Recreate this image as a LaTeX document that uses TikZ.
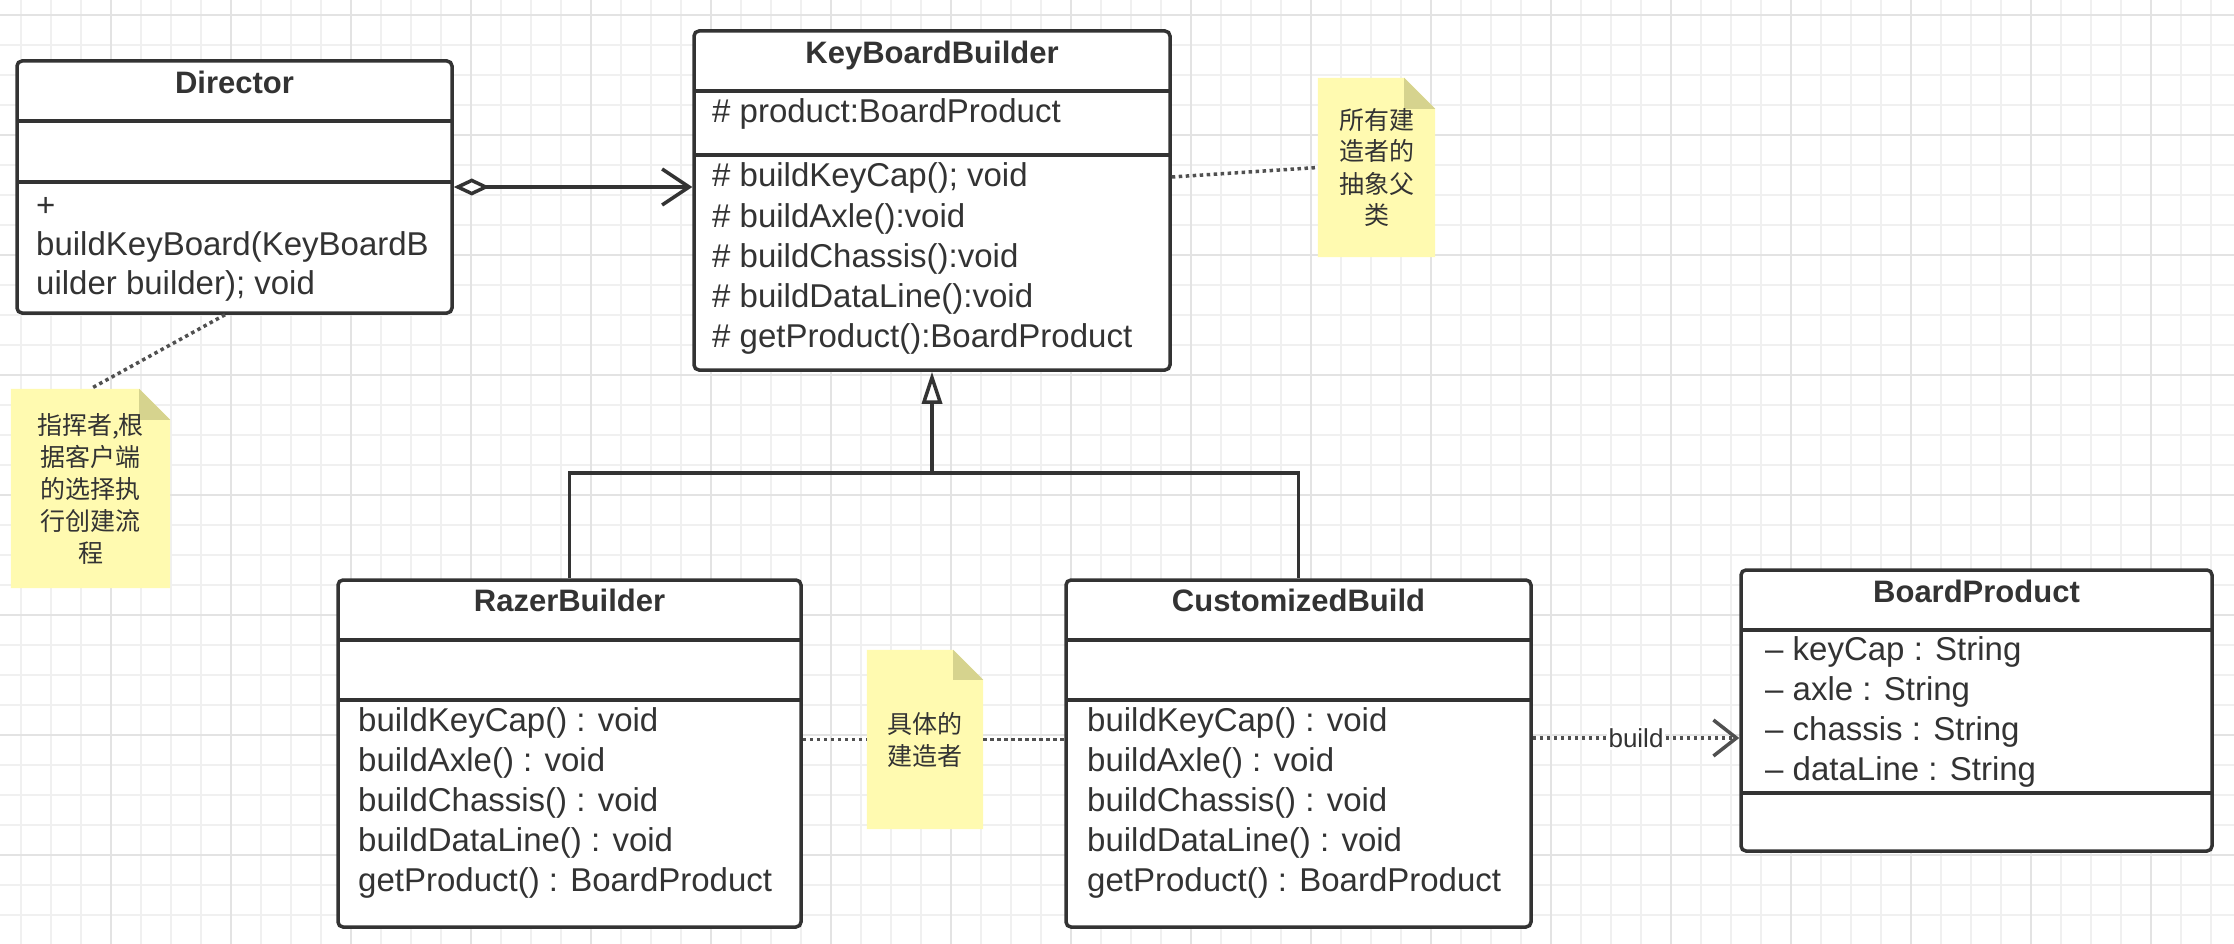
\documentclass[tikz,border=0pt]{standalone}
\usepackage{fontspec}
\setmainfont{Liberation Sans}
\newfontfamily\cjk{Noto Sans CJK SC}
\usetikzlibrary{arrows.meta,calc}
\definecolor{linec}{HTML}{333333}
\definecolor{dotc}{HTML}{505050}
\definecolor{textc}{HTML}{333333}
\definecolor{notey}{HTML}{FFFAB0}
\definecolor{foldc}{HTML}{D6D38E}
\definecolor{gridmin}{HTML}{F0F0F0}
\definecolor{gridmaj}{HTML}{E3E3E3}
\newcommand{\paintnote}[2]{%
  \fill[notey] (#1.north west) -- ([xshift=-#2]#1.north east) -- ([yshift=-#2]#1.north east) -- (#1.south east) -- (#1.south west) -- cycle;
  \fill[foldc] ([xshift=-#2]#1.north east) -- ([xshift=-#2,yshift=-#2]#1.north east) -- ([yshift=-#2]#1.north east) -- cycle;}
\tikzset{
  cls/.style={draw=linec, line width=3.5pt, rounded corners=5pt, fill=white, inner sep=0pt},
  sepl/.style={draw=linec, line width=3.5pt},
  hdr/.style={font=\fontsize{31}{37}\selectfont\bfseries, text=textc, inner sep=0pt, anchor=base},
  mem/.style={font=\fontsize{33}{40}\selectfont, text=textc, inner sep=0pt, anchor=base west},
  notebox/.style={inner sep=0pt},
  notetxt/.style={font=\cjk\fontsize{25}{32}\selectfont, text=textc, align=center, inner sep=0pt},
  dep/.style={draw=dotc, line width=3.5pt, dash pattern=on 3.5pt off 3.5pt},
  solidc/.style={draw=linec, line width=3.5pt},
  agg/.style={solidc, {Diamond[fill=white,length=36pt,width=17pt]}-{Straight Barb[length=27pt,width=36pt]}},
  lbl/.style={fill=white, font=\fontsize{26}{30}\selectfont, text=textc, inner sep=2pt}
}
\begin{document}
\begin{tikzpicture}[x=1pt,y=-1pt]
\useasboundingbox (0,0) rectangle (2234,944);
\fill[white] (0,0) rectangle (2234,944);
% grid
\foreach \gx in {0,...,73} \draw[gridmin, line width=2pt] ({20.7+30*\gx},0) -- ({20.7+30*\gx},944);
\foreach \gy in {0,...,30} \draw[gridmin, line width=2pt] (0,{15+30*\gy}) -- (2234,{15+30*\gy});
\foreach \gx in {0,...,17} \draw[gridmaj, line width=2pt] ({110.7+120*\gx},0) -- ({110.7+120*\gx},944);
\foreach \gy in {0,...,7} \draw[gridmaj, line width=2pt] (0,{15+120*\gy}) -- (2234,{15+120*\gy});

% Director
\node[cls, minimum width=435pt, minimum height=252pt] (dir) at (234.5,187) {};
\draw[sepl] (17,121) -- (452,121);
\draw[sepl] (17,182) -- (452,182);
\node[hdr] (dirh) at (234.5,94) {Director};
\node[mem] (dirm1) at (36,216) {+};
\node[mem] (dirm2) at (36,255) {buildKeyBoard(KeyBoardB};
\node[mem] (dirm3) at (36,294) {uilder builder); void};

% KeyBoardBuilder
\node[cls, minimum width=476pt, minimum height=339pt] (kbb) at (932,200.5) {};
\draw[sepl] (694,91) -- (1170,91);
\draw[sepl] (694,155) -- (1170,155);
\node[hdr] (kbbh) at (932,64) {KeyBoardBuilder};
\node[mem] (kbba) at (712,123) {\# product:BoardProduct};
\node[mem] (kbbm1) at (712,187) {\# buildKeyCap(); void};
\node[mem] (kbbm2) at (712,227) {\# buildAxle():void};
\node[mem] (kbbm3) at (712,267) {\# buildChassis():void};
\node[mem] (kbbm4) at (712,307) {\# buildDataLine():void};
\node[mem] (kbbm5) at (712,347) {\# getProduct():BoardProduct};

% RazerBuilder
\node[cls, minimum width=463pt, minimum height=347pt] (razer) at (569.5,753.5) {};
\draw[sepl] (338,640) -- (801,640);
\draw[sepl] (338,700) -- (801,700);
\node[hdr] (razerh) at (569.5,611) {RazerBuilder};
\node[mem] (razm1) at (358,731) {buildKeyCap() : void};
\node[mem] (razm2) at (358,771) {buildAxle() : void};
\node[mem] (razm3) at (358,811) {buildChassis() : void};
\node[mem] (razm4) at (358,851) {buildDataLine() : void};
\node[mem] (razm5) at (358,891) {getProduct() : BoardProduct};

% CustomizedBuild
\node[cls, minimum width=465pt, minimum height=347pt] (cust) at (1298.5,753.5) {};
\draw[sepl] (1066,640) -- (1531,640);
\draw[sepl] (1066,700) -- (1531,700);
\node[hdr] (custh) at (1298.5,611) {CustomizedBuild};
\node[mem] (cusm1) at (1087,731) {buildKeyCap() : void};
\node[mem] (cusm2) at (1087,771) {buildAxle() : void};
\node[mem] (cusm3) at (1087,811) {buildChassis() : void};
\node[mem] (cusm4) at (1087,851) {buildDataLine() : void};
\node[mem] (cusm5) at (1087,891) {getProduct() : BoardProduct};

% BoardProduct
\node[cls, minimum width=471pt, minimum height=281pt] (prod) at (1976.5,710.5) {};
\draw[sepl] (1741,630) -- (2212,630);
\draw[sepl] (1741,793) -- (2212,793);
\node[hdr] (prodh) at (1976.5,602) {BoardProduct};
\node[mem] (proda1) at (1765,660) {– keyCap : String};
\node[mem] (proda2) at (1765,700) {– axle : String};
\node[mem] (proda3) at (1765,740) {– chassis : String};
\node[mem] (proda4) at (1765,780) {– dataLine : String};

% notes
\node[notebox, minimum width=159pt, minimum height=199pt] (n1) at (90.5,488.5) {};
\paintnote{n1}{31pt}
\node[notetxt] (n1t) at (n1.center) {指挥者,根\\据客户端\\的选择执\\行创建流\\程};

\node[notebox, minimum width=117pt, minimum height=179pt] (n2) at (1376.5,167.5) {};
\paintnote{n2}{31pt}
\node[notetxt] (n2t) at (n2.center) {所有建\\造者的\\抽象父\\类};

\node[notebox, minimum width=116pt, minimum height=179pt] (n3) at (925,739.5) {};
\paintnote{n3}{30pt}
\node[notetxt] (n3t) at (n3.center) {具体的\\建造者};

% connectors
\draw[dep] ([xshift=-9.5pt]dir.south) -- (n1.north);
\draw[agg] (dir.east) -- (dir.east -| kbb.west);
\draw[dep] ([yshift=23.5pt]kbb.east) -- (n2.west);
\coordinate (bus) at (932,473);
\draw[solidc] (razer.north) |- (bus) -| (cust.north);
\draw[solidc, -{Triangle[fill=white, length=32pt, width=20pt]}] (bus) -- (kbb.south);
\coordinate (rz) at ([yshift=14pt]razer.east);
\draw[dep] (rz) -- (rz -| n3.west);
\draw[dep] (rz -| n3.east) -- (rz -| cust.west);
\coordinate (bs) at ([yshift=15.5pt]cust.east);
\draw[dep, -{Straight Barb[length=23pt, width=36pt]}] (bs) -- node[lbl] (blbl) {build} (bs -| prod.west);
\end{tikzpicture}
\end{document}
